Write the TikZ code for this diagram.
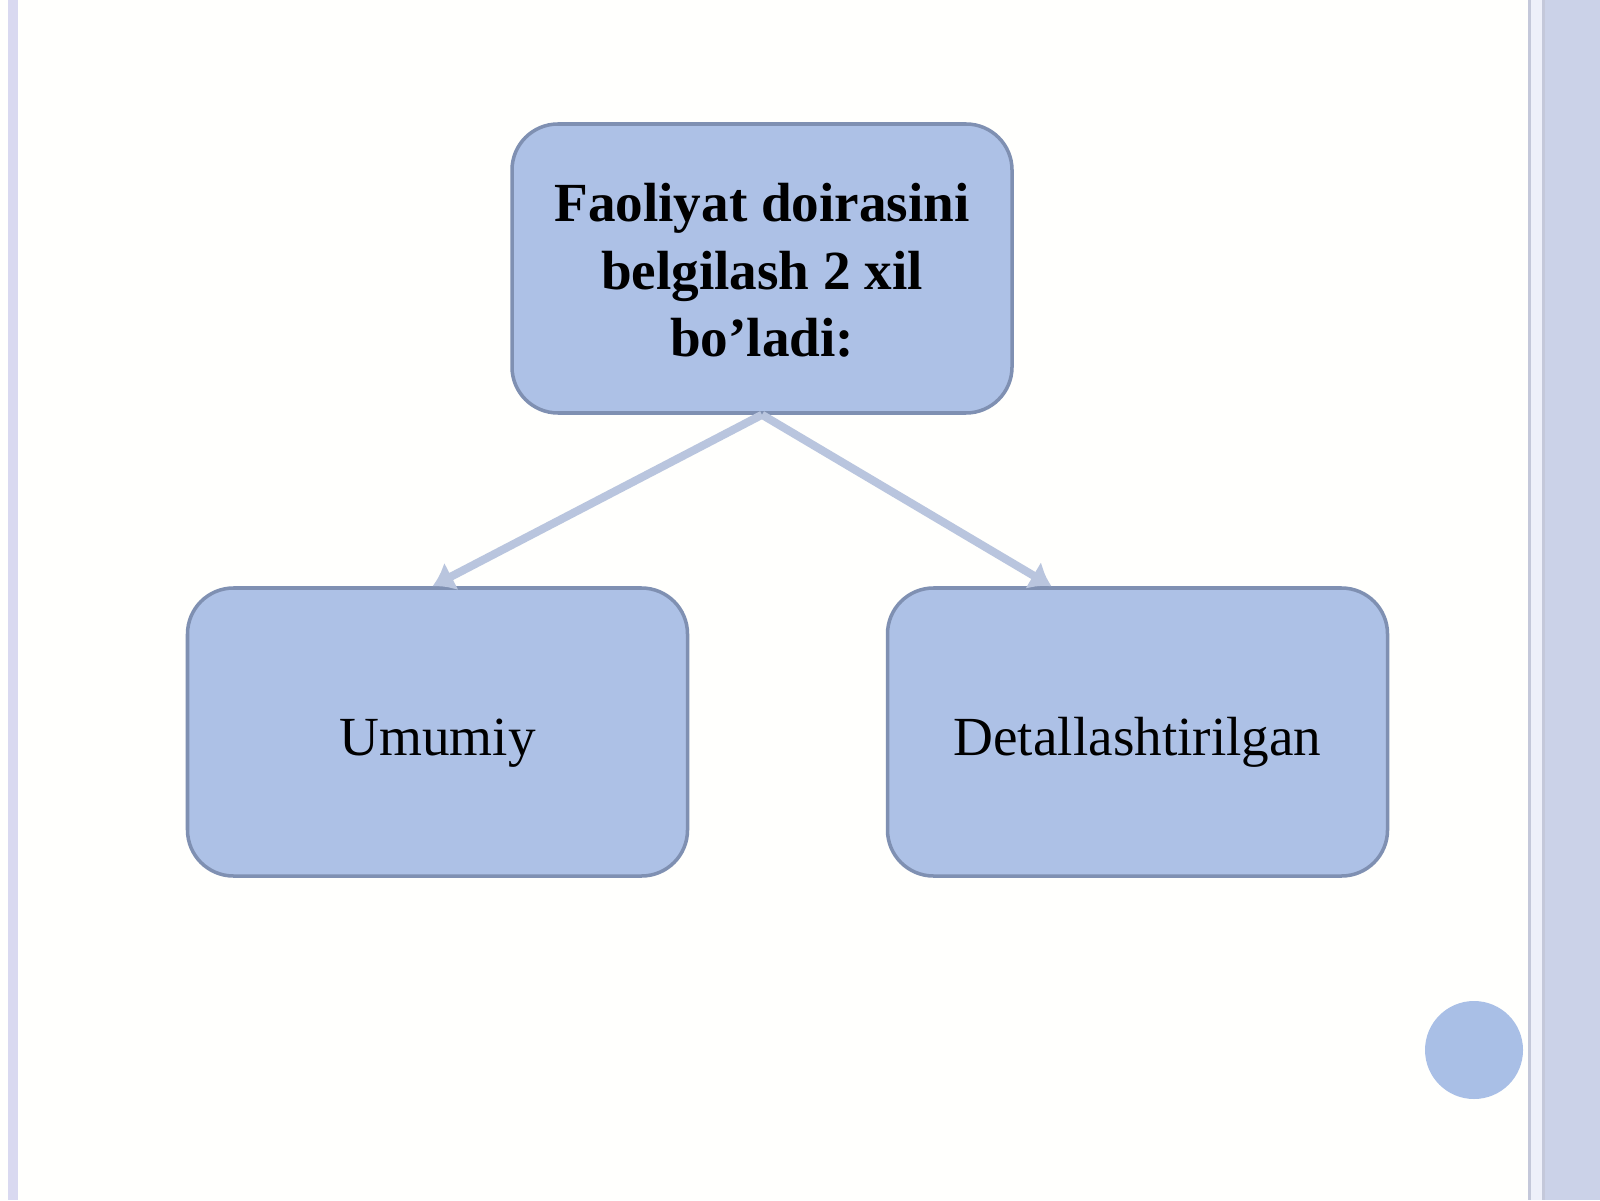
\documentclass[tikz,border=0pt]{standalone}
\usepackage{fontspec}
\setmainfont{Liberation Serif}
\usetikzlibrary{arrows.meta,calc}
\definecolor{bgcol}{HTML}{FFFFFD}
\definecolor{boxfill}{HTML}{ADC1E6}
\definecolor{boxline}{HTML}{7F90B2}
\definecolor{arrowcol}{HTML}{B9C5DE}
\definecolor{leftstripe}{HTML}{D9D9F0}
\definecolor{rightpanel}{HTML}{CBD2E8}
\definecolor{rightstripe}{HTML}{EEF0FA}
\definecolor{stripeedge}{HTML}{C4C8DA}
\definecolor{dotcol}{HTML}{A9BFE6}
\tikzset{
  card/.style={draw=boxline, line width=1pt, fill=boxfill, rounded corners=0.46cm,
    minimum width=5.0cm, minimum height=2.88cm, align=center, inner sep=0pt,
    font=\fontsize{15.7}{19.2}\selectfont},
  link/.style={draw=arrowcol, line width=2.3pt, -{Latex[length=6pt,width=9pt]}}
}
\begin{document}
\begin{tikzpicture}
\useasboundingbox (0,0) rectangle (16,12);
\fill[bgcol] (0,0) rectangle (16,12);
% side decorations
\fill[leftstripe] (0.08,0) rectangle (0.18,12);
\fill[rightpanel] (15.45,0) rectangle (16,12);
\fill[stripeedge] (15.28,0) rectangle (15.45,12);
\fill[rightstripe] (15.31,0) rectangle (15.42,12);
% nodes
\node[card, minimum height=2.89cm] (top) at (7.62,9.315)
  {\raisebox{-0.88cm}[0pt][0pt]{\bfseries\begin{tabular}[b]{@{}c@{}}Faoliyat doirasini\\belgilash 2 xil\\bo’ladi:\end{tabular}}};
\node[card] (left) at (4.375,4.68) {\raisebox{-0.23cm}[0pt][0pt]{Umumiy}};
\node[card] (right) at (11.375,4.68) {\raisebox{-0.23cm}[0pt][0pt]{Detallashtirilgan}};
% connector end points
\coordinate (lend) at ($(left.north)+(-0.05,0)$);
\coordinate (rend) at ($(right.north)+(-0.86,0)$);
\draw[link] (top.south) -- (lend);
\draw[link] (top.south) -- (rend);
% decorative dot
\node[circle, fill=dotcol, minimum size=0.98cm, inner sep=0pt] (dot) at (14.74,1.5) {};
\end{tikzpicture}
\end{document}
